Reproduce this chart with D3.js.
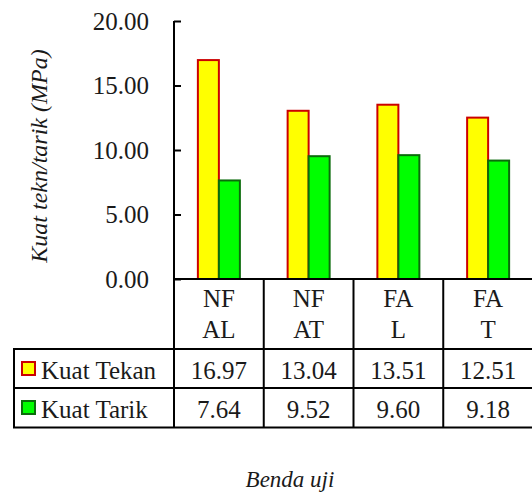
<!DOCTYPE html>
<html>
<head>
<meta charset="utf-8">
<script src="https://cdn.jsdelivr.net/npm/d3@7"></script>
</head>
<body style="margin:0">
<svg id="fig" width="532" height="499"></svg>
<script>
// Specimen groups (two-line labels) and measured strengths (MPa)
const categories = ["NF AL", "NF AT", "FA L", "FA T"];
const categoryLines = [["NF", "AL"], ["NF", "AT"], ["FA", "L"], ["FA", "T"]];
const seriesNames = ["Kuat Tekan", "Kuat Tarik"];
const kuatTekan = [16.97, 13.04, 13.51, 12.51];
const kuatTarik = [7.64, 9.52, 9.60, 9.18];
const yTicks = [0, 5, 10, 15, 20];

const seriesValues = [kuatTekan, kuatTarik];
const fills = ["#FFFF00", "#00FF00"];
const strokes = ["#CC0000", "#0B6B0B"];
const INK = "#1a1a1a";

const svg = d3.select("#fig");

const plotLeft = 174, plotRight = 533, plotTop = 21, plotBottom = 279;
const rowTops = [279, 349, 388, 427.5];
const tableLeft = 14;

const xBand = d3.scaleBand().domain(categories).range([plotLeft, plotRight]);
const barW = 21;
const pad = (xBand.bandwidth() / barW - 2) / 2;
const xSeries = d3.scaleBand().domain(seriesNames).range([0, xBand.bandwidth()])
  .paddingInner(0).paddingOuter(pad);
const yScale = d3.scaleLinear().domain([0, 20]).range([plotBottom, plotTop]);

function serif(sel, size) {
  return sel.style("font-family", '"Liberation Serif"').style("font-size", (size || 25) + "px").attr("fill", INK);
}

// Bars
const bars = svg.append("g");
seriesNames.forEach((s, si) => {
  bars.selectAll(null)
    .data(categories)
    .join("rect")
    .attr("x", c => xBand(c) + xSeries(s))
    .attr("y", (c, i) => yScale(seriesValues[si][i]))
    .attr("width", xSeries.bandwidth())
    .attr("height", (c, i) => yScale(0) - yScale(seriesValues[si][i]))
    .attr("fill", fills[si])
    .attr("stroke", strokes[si])
    .attr("stroke-width", 2);
});

// Value axis
const yAxis = d3.axisLeft(yScale).tickValues(yTicks).tickSize(-7)
  .tickFormat(d3.format(".2f")).tickPadding(25);
const ya = svg.append("g").attr("transform", `translate(${plotLeft},0)`).call(yAxis);
ya.select(".domain").attr("stroke", "#000").attr("stroke-width", 2)
  .attr("d", `M0,${plotTop}V${plotBottom}`);
ya.selectAll(".tick line").attr("stroke", "#000").attr("stroke-width", 2);
serif(ya.selectAll(".tick text"));

// Data table grid
const grid = svg.append("g").attr("stroke", "#000").attr("stroke-width", 2).attr("fill", "none");
grid.append("line").attr("x1", plotLeft).attr("x2", 540).attr("y1", rowTops[0]).attr("y2", rowTops[0]);
[rowTops[1], rowTops[2], rowTops[3]].forEach(yy => {
  grid.append("line").attr("x1", tableLeft - 1).attr("x2", 540).attr("y1", yy).attr("y2", yy);
});
grid.append("line").attr("x1", tableLeft).attr("x2", tableLeft).attr("y1", rowTops[1]).attr("y2", rowTops[3]);
categories.forEach(c => {
  grid.append("line").attr("x1", xBand(c)).attr("x2", xBand(c)).attr("y1", rowTops[0]).attr("y2", rowTops[3]);
});
grid.append("line").attr("x1", plotRight).attr("x2", plotRight).attr("y1", rowTops[0]).attr("y2", rowTops[3]);

// Category labels (two lines per column)
categories.forEach((c, i) => {
  const cx = xBand(c) + xBand.bandwidth() / 2;
  serif(svg.append("text").attr("x", cx).attr("y", 307).attr("text-anchor", "middle")).text(categoryLines[i][0]);
  serif(svg.append("text").attr("x", cx).attr("y", 338).attr("text-anchor", "middle")).text(categoryLines[i][1]);
});

// Legend rows with values
const rowBase = [379, 418];
seriesNames.forEach((s, si) => {
  const top = rowTops[si + 1];
  svg.append("rect").attr("x", 22).attr("y", top + 13).attr("width", 13).attr("height", 13)
    .attr("fill", fills[si]).attr("stroke", strokes[si]).attr("stroke-width", 2);
  serif(svg.append("text").attr("x", 41).attr("y", rowBase[si])).text(s);
  categories.forEach((c, i) => {
    serif(svg.append("text").attr("text-anchor", "middle")
      .attr("x", xBand(c) + xBand.bandwidth() / 2).attr("y", rowBase[si]))
      .text(d3.format(".2f")(seriesValues[si][i]));
  });
});

// Axis titles
serif(svg.append("text").attr("text-anchor", "middle")
  .attr("transform", "translate(47,156) rotate(-90)"), 24)
  .style("font-style", "italic")
  .text("Kuat tekn/tarik (MPa)");
serif(svg.append("text").attr("text-anchor", "middle")
  .attr("x", 290).attr("y", 487), 23)
  .style("font-style", "italic")
  .text("Benda uji");
</script>
</body>
</html>
